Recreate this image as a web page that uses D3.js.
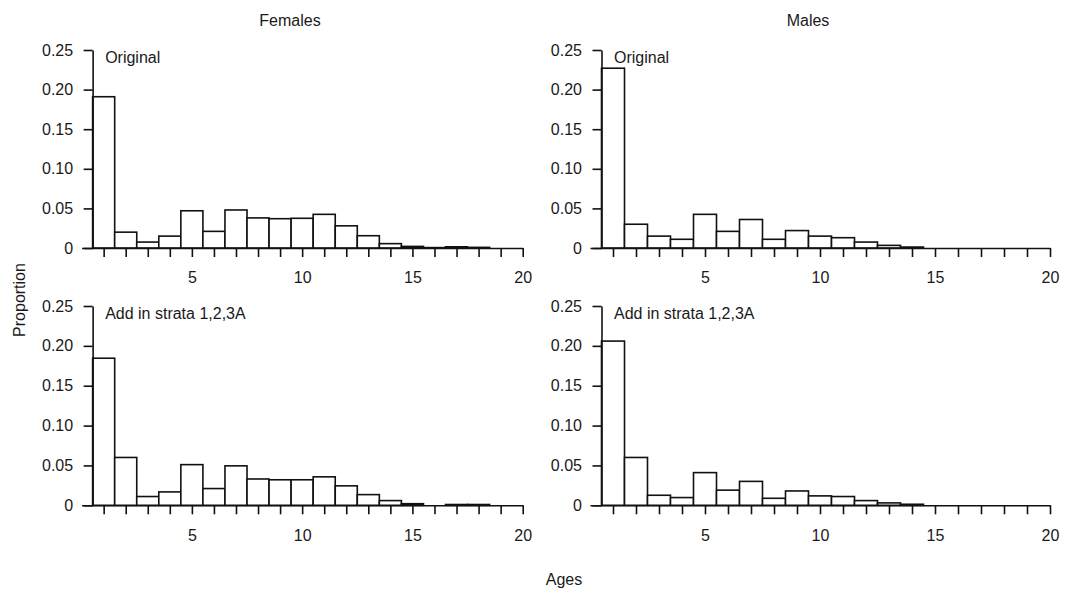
<!DOCTYPE html>
<html>
<head>
<meta charset="utf-8">
<script src="https://cdn.jsdelivr.net/npm/d3@7"></script>
<style>
  html, body { margin: 0; padding: 0; background: #fff; }
  svg { display: block; font-family: "Liberation Sans", Arial, sans-serif; }
  text { fill: #1a1a1a; }
</style>
</head>
<body>
<svg id="chart" width="1076" height="597"></svg>
<script>
// ---- data ----
const ages = [1,2,3,4,5,6,7,8,9,10,11,12,13,14,15,16,17,18,19,20];
const femalesOriginal = [0.191,0.020,0.0075,0.015,0.047,0.021,0.048,0.038,0.037,0.0375,0.0425,0.028,0.0155,0.0055,0.002,0.0005,0.0015,0.0008,0,0];
const malesOriginal   = [0.227,0.030,0.015,0.011,0.0425,0.021,0.036,0.011,0.022,0.015,0.013,0.0075,0.0033,0.0012,0,0,0,0,0,0];
const femalesStrata   = [0.1845,0.060,0.011,0.0168,0.051,0.021,0.0495,0.033,0.032,0.032,0.0357,0.0244,0.0134,0.0059,0.002,0,0.001,0.001,0,0];
const malesStrata     = [0.206,0.060,0.0126,0.0097,0.041,0.019,0.030,0.0088,0.018,0.0118,0.011,0.0059,0.003,0.0013,0,0,0,0,0,0];
const yTickValues = [0,0.05,0.10,0.15,0.20,0.25];
const yTickLabels = ["0","0.05","0.10","0.15","0.20","0.25"];
const xTickLabelled = [5,10,15,20];
const columnTitles = ["Females","Males"];
const panelLabels = ["Original","Add in strata 1,2,3A"];

// ---- layout ----
const svg = d3.select("#chart");
const cols = [
  {range:[81.6,522.7], title:columnTitles[0], titleX:290},
  {range:[590,1050],   title:columnTitles[1], titleX:808}
];
const rows = [
  {range:[248,50],    label:panelLabels[0]},
  {range:[505.3,306], label:panelLabels[1]}
];
const panels = [
  {c:0,r:0,values:femalesOriginal},
  {c:1,r:0,values:malesOriginal},
  {c:0,r:1,values:femalesStrata},
  {c:1,r:1,values:malesStrata}
];

panels.forEach(p => {
  const x = d3.scaleLinear().domain([0,20]).range(cols[p.c].range);
  const y = d3.scaleLinear().domain([0,0.25]).range(rows[p.r].range);
  const g = svg.append("g");

  // bars
  g.selectAll("rect").data(ages.map((a,i)=>({a, v:p.values[i]})))
    .join("rect")
    .attr("x", d => x(d.a-0.5))
    .attr("width", d => x(d.a+0.5)-x(d.a-0.5))
    .attr("y", d => y(d.v))
    .attr("height", d => y(0)-y(d.v))
    .attr("fill","#fff")
    .attr("stroke","#111")
    .attr("stroke-width",1.6);

  // x axis
  const xa = g.append("g")
    .attr("transform",`translate(0,${y(0)})`)
    .call(d3.axisBottom(x).tickValues(ages)
      .tickFormat(d => xTickLabelled.includes(d) ? String(d) : "")
      .tickSize(9).tickSizeOuter(0).tickPadding(15));
  // y axis
  const ya = g.append("g")
    .attr("transform",`translate(${x(0.5)},0)`)
    .call(d3.axisLeft(y).tickValues(yTickValues)
      .tickFormat((d,i) => yTickLabels[i])
      .tickSize(9).tickSizeOuter(0).tickPadding(10.5));
  [xa,ya].forEach(a => {
    a.selectAll("path,line").attr("stroke","#111").attr("stroke-width",1.6);
    a.selectAll("text").attr("font-size",16).attr("fill","#1a1a1a")
      .attr("font-family","'Liberation Sans', Arial, sans-serif");
  });

  // panel label
  g.append("text")
    .attr("x", x(0.5)+12.5)
    .attr("y", y(0.25)+12.5)
    .attr("font-size",16)
    .text(rows[p.r].label);
});

// column titles
cols.forEach(c => {
  svg.append("text").attr("x",c.titleX).attr("y",26)
    .attr("text-anchor","middle").attr("font-size",16).text(c.title);
});

// axis titles
svg.append("text")
  .attr("transform","translate(25,300) rotate(-90)")
  .attr("text-anchor","middle").attr("font-size",16).text("Proportion");
svg.append("text")
  .attr("x",564).attr("y",585)
  .attr("text-anchor","middle").attr("font-size",16).text("Ages");
</script>
</body>
</html>
